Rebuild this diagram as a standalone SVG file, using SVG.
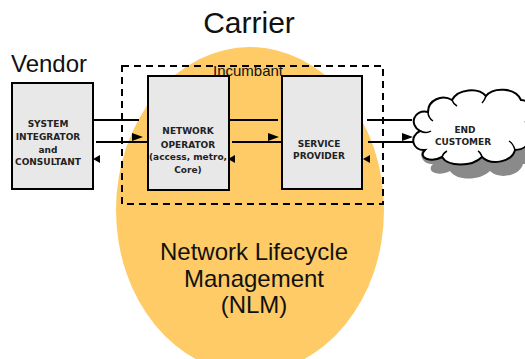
<svg xmlns="http://www.w3.org/2000/svg" width="525" height="359" viewBox="0 0 525 359">
  <style>
    .title { font-family: "Liberation Sans", Arial, sans-serif; fill: #111; }
    .box { fill: #e8e8e8; stroke: #000; stroke-width: 2; }
    .lbl { font-family: "DejaVu Sans", Verdana, sans-serif; font-weight: bold; font-size: 9px; fill: #222; text-anchor: middle; }
    .line { stroke: #000; stroke-width: 2; fill: none; }
    .head { fill: #000; }
  </style>
  <defs>
    <!-- cloud outline, reused for its shadow -->
    <path id="cloudShape" d="M 425 150 C 412 151, 409 136, 420 131 C 409 125, 413 109, 428 112 C 428 100, 442 94, 452 100 C 458 89, 478 87, 486 96 C 493 87, 515 87, 521 100 C 533 100, 536 117, 526 122 C 536 131, 531 150, 515 150 C 512 162, 491 166, 482 157 C 472 167, 448 167, 442 157 C 431 163, 417 158, 425 150 Z"/>
  </defs>

  <rect width="525" height="359" fill="#fff"/>

  <!-- carrier area -->
  <ellipse cx="250" cy="210" rx="134" ry="163" fill="#fecb66"/>
  <rect x="122" y="66" width="261" height="138" fill="none" stroke="#000" stroke-width="2" stroke-dasharray="7,5"/>

  <text class="title" x="249" y="33" font-size="30" text-anchor="middle">Carrier</text>
  <text class="title" x="49" y="72" font-size="24" text-anchor="middle">Vendor</text>
  <text class="title" x="248" y="76" font-size="15" text-anchor="middle">Incumbant</text>
  <text class="title" x="254" y="260" font-size="24" text-anchor="middle">Network Lifecycle</text>
  <text class="title" x="254" y="287" font-size="24" text-anchor="middle">Management</text>
  <text class="title" x="254" y="313" font-size="24" text-anchor="middle">(NLM)</text>

  <g id="system-integrator">
    <rect class="box" x="12" y="83" width="81" height="106"/>
    <text class="lbl" x="48" y="127">SYSTEM</text>
    <text class="lbl" x="48" y="140">INTEGRATOR</text>
    <text class="lbl" x="48" y="153">and</text>
    <text class="lbl" x="48" y="165">CONSULTANT</text>
  </g>

  <g id="network-operator">
    <rect class="box" x="148" y="76" width="81" height="114"/>
    <text class="lbl" x="188" y="134">NETWORK</text>
    <text class="lbl" x="188" y="148">OPERATOR</text>
    <text class="lbl" x="188" y="160">(access, metro,</text>
    <text class="lbl" x="188" y="173">Core)</text>
  </g>

  <g id="service-provider">
    <rect class="box" x="282" y="76" width="80" height="113"/>
    <text class="lbl" x="319" y="147">SERVICE</text>
    <text class="lbl" x="319" y="159">PROVIDER</text>
  </g>

  <g id="end-customer">
    <use href="#cloudShape" transform="translate(8,14)" fill="#8a8a8a"/>
    <use href="#cloudShape" fill="#fff" stroke="#000" stroke-width="2"/>
    <path d="M 420 131 C 424 133, 428 133, 431 131 M 428 112 C 428 116, 430 119, 433 121 M 452 100 C 453 103, 455 105, 457 106 M 486 96 C 485 99, 484 101, 482 103 M 515 150 C 514 146, 512 143, 509 141 M 482 157 C 481 154, 480 152, 478 151 M 442 157 C 443 154, 445 152, 447 151" fill="none" stroke="#000" stroke-width="1.5"/>
    <text class="lbl" x="465" y="133">END</text>
    <text class="lbl" x="463" y="145">CUSTOMER</text>
  </g>

  <g id="connectors">
    <!-- vendor / network operator -->
    <path class="line" d="M 93 120 H 139 M 96 142 H 148"/>
    <polygon class="head" points="132,133 143,137 132,141"/>
    <polygon class="head" points="93,159 100,155 100,163"/>
    <!-- network operator / service provider -->
    <path class="line" d="M 229 120 H 278 M 232 142 H 282"/>
    <polygon class="head" points="268,133 279,137 268,141"/>
    <polygon class="head" points="228,159 235,155 235,163"/>
    <!-- service provider / end customer -->
    <path class="line" d="M 367 120 H 412 M 368 142 H 413"/>
    <polygon class="head" points="402,133 413,137 402,141"/>
    <polygon class="head" points="363,159 370,155 370,163"/>
  </g>
</svg>
